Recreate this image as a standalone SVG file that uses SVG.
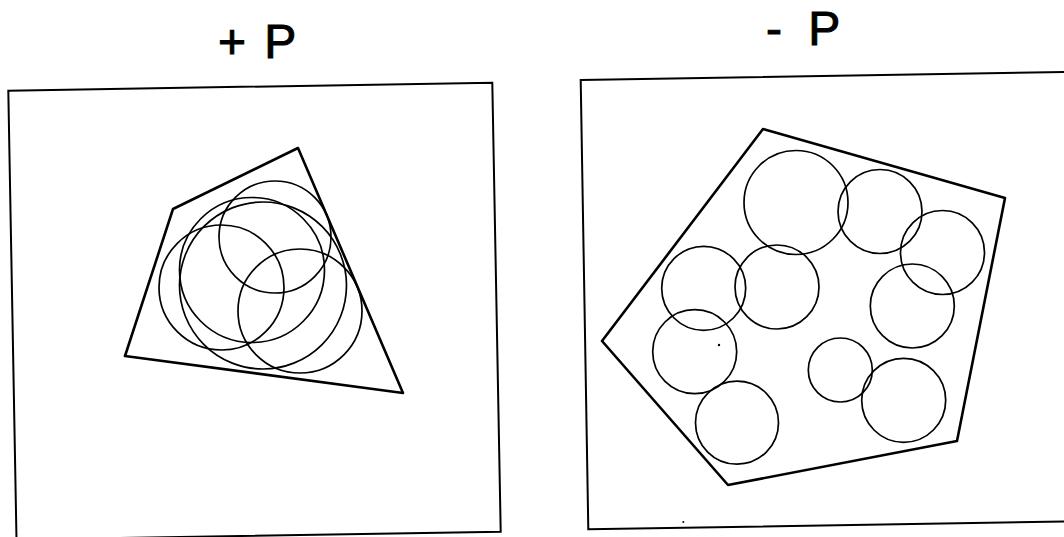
<svg xmlns="http://www.w3.org/2000/svg" width="1064" height="537" viewBox="0 0 1064 537">
<style>
.frame{fill:none;stroke:#000;stroke-width:2}
.poly{fill:none;stroke:#000;stroke-width:2.6;stroke-linejoin:round}
.c{fill:none;stroke:#000;stroke-width:1.7}
.t{font-family:"Liberation Sans",Arial,sans-serif;font-size:48px;fill:#000;stroke:#000;stroke-width:1}
</style>
<rect width="1064" height="537" fill="#fff"/>
<g id="panel-plus">
<text class="t" x="218" y="58" style="word-spacing:5px">+ P</text>
<polygon class="frame" points="8.3,90.7 492.3,82.7 500.7,531.7 16.5,539.7"/>
<polygon class="poly" points="298,148 173,209 125,356 403,393"/>
<circle class="c" cx="275" cy="237" r="56"/>
<circle class="c" cx="221.5" cy="287.5" r="62.5"/>
<circle class="c" cx="300" cy="311" r="62"/>
<circle class="c" cx="252" cy="270" r="72.5"/>
<circle class="c" cx="263" cy="285.5" r="83.5"/>
</g>
<g id="panel-minus">
<text class="t" x="766" y="45" style="word-spacing:13px">- P</text>
<polygon class="frame" points="580.7,80 1075,71.8 1075,521.2 588.3,529.3"/>
<polygon class="poly" points="763,129 1005,198 957,441 728,485 602,341"/>
<circle class="c" cx="796" cy="202.5" r="52"/>
<circle class="c" cx="880" cy="211.5" r="42"/>
<circle class="c" cx="942.5" cy="252.5" r="42"/>
<circle class="c" cx="912.3" cy="306" r="42"/>
<circle class="c" cx="703.7" cy="288.3" r="42"/>
<circle class="c" cx="777" cy="287" r="42"/>
<circle class="c" cx="694.7" cy="351.7" r="42"/>
<circle class="c" cx="737" cy="422.7" r="41.5"/>
<circle class="c" cx="840.3" cy="370" r="32"/>
<circle class="c" cx="903.7" cy="400.3" r="42"/>
<circle cx="719" cy="345" r="1.2" fill="#000"/>
<circle cx="683.3" cy="522" r="1" fill="#000"/>
</g>
</svg>
